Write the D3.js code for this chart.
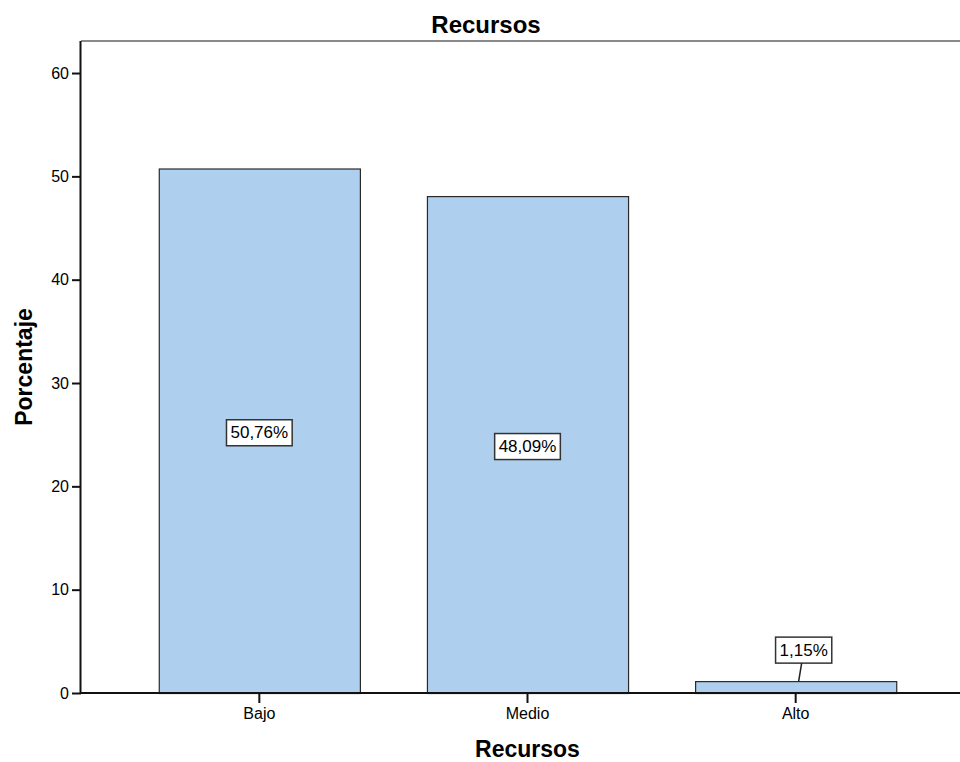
<!DOCTYPE html>
<html>
<head>
<meta charset="utf-8">
<script src="https://cdn.jsdelivr.net/npm/d3@7"></script>
<style>
  html, body { margin: 0; padding: 0; background: #fff; }
  svg { display: block; }
  text { font-family: "Liberation Sans", Arial, sans-serif; fill: #000; }
</style>
</head>
<body>
<svg id="chart" width="960" height="762"></svg>
<script>
const categories = ["Bajo", "Medio", "Alto"];
const values = [50.76, 48.09, 1.15];
const valueLabels = ["50,76%", "48,09%", "1,15%"];
const yTicks = [0, 10, 20, 30, 40, 50, 60];
const chartTitle = "Recursos";
const xTitle = "Recursos";
const yTitle = "Porcentaje";

(function () {
const svg = d3.select("#chart");
const W = 960, H = 762;
const pLeft = 81, pTop = 41, pBottom = 693, rightRange = 974;

const x = d3.scaleBand().domain(categories).range([pLeft, rightRange])
  .paddingInner(0.25).paddingOuter(0.29);
const y = d3.scaleLinear().domain([0, 63.1]).range([pBottom, pTop]);

// top frame line
svg.append("line").attr("x1", pLeft).attr("x2", W).attr("y1", pTop).attr("y2", pTop)
  .attr("stroke", "#8a8a8a").attr("stroke-width", 2);

// bars
svg.append("g").selectAll("rect").data(categories).join("rect")
  .attr("x", d => x(d) + 0.5)
  .attr("y", (d, i) => y(values[i]) + 0.5)
  .attr("width", x.bandwidth())
  .attr("height", (d, i) => y(0) - y(values[i]))
  .attr("fill", "#aecfee")
  .attr("stroke", "#2a2a2a")
  .attr("stroke-width", 1.2);

// y axis
const yAxis = d3.axisLeft(y).tickValues(yTicks).tickSize(9).tickPadding(3);
const gy = svg.append("g").attr("transform", `translate(${pLeft},0)`).call(yAxis);
gy.select(".domain").attr("d", `M-0.5,${pTop}V${pBottom}`).attr("stroke", "#111").attr("stroke-width", 2);
gy.selectAll(".tick line").attr("stroke", "#111").attr("stroke-width", 2);
gy.selectAll(".tick text").attr("font-size", 16).attr("fill", "#222")
  .attr("font-family", "Liberation Sans, Arial, sans-serif");

// x axis
const xAxis = d3.axisBottom(x).tickSize(10).tickPadding(5);
const gx = svg.append("g").attr("transform", `translate(0,${pBottom})`).call(xAxis);
gx.select(".domain").attr("d", `M${pLeft},0H${W}`).attr("stroke", "#111").attr("stroke-width", 2);
gx.selectAll(".tick line").attr("stroke", "#111").attr("stroke-width", 2);
gx.selectAll(".tick text").attr("font-size", 16).attr("fill", "#222")
  .attr("font-family", "Liberation Sans, Arial, sans-serif");

// value labels
const lab = svg.append("g");
categories.forEach((c, i) => {
  const cx = x(c) + x.bandwidth() / 2;
  const barTop = y(values[i]);
  const barH = y(0) - barTop;
  let bx = cx, by;
  const bh = 26;
  const inside = barH > 60;
  if (inside) {
    by = barTop + barH / 2 + 2;
  } else {
    bx = cx + 8;
    by = barTop - 18 - bh / 2;
    lab.append("line").attr("x1", bx - 2).attr("y1", by + bh / 2)
      .attr("x2", cx + 3).attr("y2", barTop)
      .attr("stroke", "#222").attr("stroke-width", 1.5);
  }
  const t = lab.append("text").attr("x", bx).attr("y", by)
    .attr("text-anchor", "middle").attr("dominant-baseline", "central")
    .attr("font-size", 17).text(valueLabels[i]);
  const tw = t.node().getComputedTextLength();
  lab.insert("rect", "text").attr("x", bx - tw / 2 - 4).attr("y", by - bh / 2)
    .attr("width", tw + 8).attr("height", bh)
    .attr("fill", "#fff").attr("stroke", "#333").attr("stroke-width", 1.5);
});
lab.selectAll("text").raise();

// titles
svg.append("text").attr("x", 486).attr("y", 33).attr("text-anchor", "middle")
  .attr("font-size", 24).attr("font-weight", "bold").text(chartTitle);
svg.append("text").attr("x", (pLeft + rightRange) / 2).attr("y", 757).attr("text-anchor", "middle")
  .attr("font-size", 23).attr("font-weight", "bold").text(xTitle);
svg.append("text").attr("transform", `translate(32,${(pTop + pBottom) / 2}) rotate(-90)`)
  .attr("text-anchor", "middle").attr("font-size", 23).attr("font-weight", "bold").text(yTitle);
})();
</script>
</body>
</html>
